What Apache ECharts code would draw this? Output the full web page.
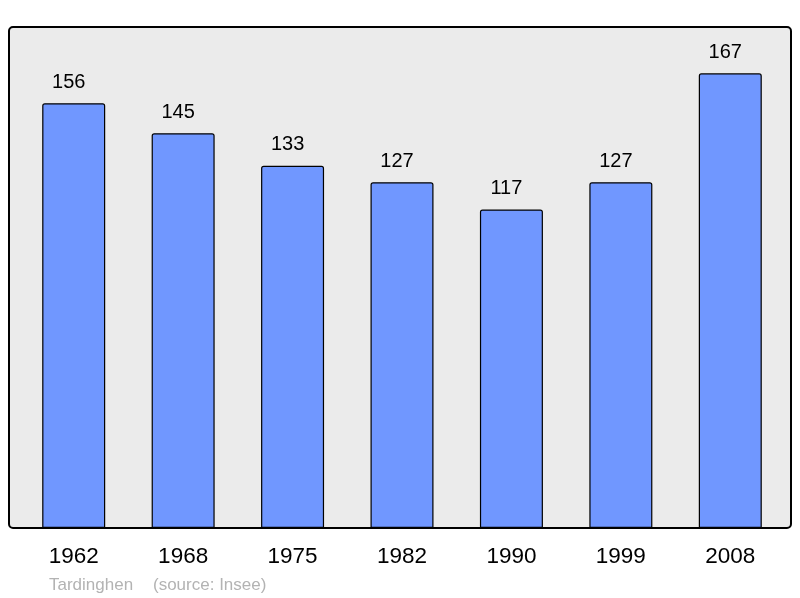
<!DOCTYPE html>
<html><head><meta charset="utf-8">
<script src="https://cdn.jsdelivr.net/npm/echarts@6/dist/echarts.min.js"></script>
<style>html,body{margin:0;padding:0;background:#fff}#c{width:800px;height:598px}</style>
</head><body><div id="c"></div>
<script>
var categories = ['1962','1968','1975','1982','1990','1999','2008'];
var population = [156,145,133,127,117,127,167];
var town = 'Tardinghen';
var source = '(source: Insee)';

var chart = echarts.init(document.getElementById('c'), null, {renderer:'canvas'});
chart.setOption({
  animation:false,
  backgroundColor:'#fff',
  grid:{left:19, right:15, top:27, bottom:70, containLabel:false},
  xAxis:{type:'category', data:categories,
    axisLine:{show:false}, axisTick:{show:false},
    axisLabel:{fontSize:22.5, color:'#000', margin:17.5, fontFamily:'Liberation Sans, Arial, sans-serif'}},
  yAxis:{type:'value', min:0, max:184, show:false, splitLine:{show:false}},
  graphic:[
    {type:'rect', z:-10, shape:{x:9,y:27,width:782,height:501,r:4},
     style:{fill:'#ebebeb', stroke:'#000', lineWidth:2}},
    {type:'text', left:49, top:577, style:{text:town, fontSize:17, fill:'#b3b3b3', fontFamily:'Liberation Sans, Arial, sans-serif'}},
    {type:'text', left:153, top:577, style:{text:source, fontSize:17, fill:'#b3b3b3', fontFamily:'Liberation Sans, Arial, sans-serif'}}
  ],
  series:[{type:'bar', data:population, barWidth:63,
    itemStyle:{color:'#7097ff', borderColor:'#000', borderWidth:1.2, borderRadius:[2,2,0,0]},
    label:{show:true, position:'top', distance:11, offset:[-5,0], fontSize:20, color:'#000', fontFamily:'Liberation Sans, Arial, sans-serif'}
  }]
});
</script></body></html>
